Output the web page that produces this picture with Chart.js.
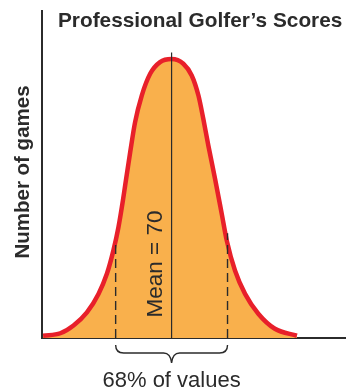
<!DOCTYPE html>
<html><head><meta charset="utf-8">
<script src="https://cdn.jsdelivr.net/npm/chart.js@4.4.1/dist/chart.umd.min.js"></script>
<style>html,body{margin:0;padding:0;background:#fff}#wrap{width:346px;height:392px;position:relative}</style>
</head><body><div id="wrap"><canvas id="c" width="346" height="392"></canvas></div>
<script>
// ---- data ----
const titleText = "Professional Golfer\u2019s Scores";
const yAxisLabel = "Number of games";
const meanLabel = "Mean = 70";
const rangeLabel = "68% of values";
const meanScore = 70;
const sdBelow = 67;
const sdAbove = 73;
const scores = [63.11, 64.03, 64.74, 65.46, 66.08, 66.53, 66.88, 67.15, 67.39, 67.51, 67.78, 68.04, 68.40, 68.85, 69.38, 70.0,
                70.63, 71.08, 71.44, 71.70, 71.97, 72.33, 72.69, 72.96, 73.40, 73.94, 74.65, 75.54, 76.72];
const games  = [0.8, 1.7, 4.5, 9.2, 15.8, 23.0, 31.4, 39.7, 49.3, 54.7, 66.6, 77.3, 86.9, 94.7, 98.9, 100,
                98.3, 94.1, 86.9, 78.6, 69.0, 57.1, 44.5, 34.9, 24.2, 15.8, 8.7, 3.3, 0.8];
const meanLineTop = 102.3;
const sdBelowTop = 34.2;
const sdAboveTop = 37.5;
const xRange = [63.05, 79.3];
const yRange = [0, 117.2];

const curve = scores.map((s, i) => ({x: s, y: games[i]}));

const FONT = '"Liberation Sans", Arial, Helvetica, sans-serif';
const INK = '#2b2b2b';

const annot = {
  id: 'annot',
  afterDraw(chart) {
    const {ctx, scales: {x, y}, chartArea} = chart;
    ctx.save();
    ctx.fillStyle = INK;
    // title
    ctx.font = 'bold 20.8px ' + FONT;
    ctx.textAlign = 'left';
    ctx.textBaseline = 'alphabetic';
    ctx.fillText(titleText, 58, 27);
    // y axis label
    ctx.save();
    ctx.translate(29, 172);
    ctx.rotate(-Math.PI / 2);
    ctx.textAlign = 'center';
    ctx.font = 'bold 20.5px ' + FONT;
    ctx.fillText(yAxisLabel, 0, 0);
    ctx.restore();
    // mean label
    ctx.save();
    ctx.translate(x.getPixelForValue(meanScore) - 10, 264);
    ctx.rotate(-Math.PI / 2);
    ctx.textAlign = 'center';
    ctx.font = '22.5px ' + FONT;
    ctx.fillText(meanLabel, 0, 0);
    ctx.restore();
    // bracket
    const xl = x.getPixelForValue(sdBelow), xr = x.getPixelForValue(sdAbove), xm = x.getPixelForValue(meanScore);
    const b = chartArea.bottom;
    ctx.strokeStyle = INK;
    ctx.lineWidth = 1.4;
    ctx.beginPath();
    ctx.moveTo(xl, b + 7);
    ctx.quadraticCurveTo(xl, b + 15, xl + 8, b + 15);
    ctx.lineTo(xm - 8, b + 15);
    ctx.quadraticCurveTo(xm - 1, b + 15, xm, b + 25);
    ctx.quadraticCurveTo(xm + 1, b + 15, xm + 8, b + 15);
    ctx.lineTo(xr - 8, b + 15);
    ctx.quadraticCurveTo(xr, b + 15, xr, b + 7);
    ctx.stroke();
    // range label
    ctx.textAlign = 'center';
    ctx.font = '22px ' + FONT;
    ctx.fillText(rangeLabel, xm, b + 49);
    ctx.restore();
  }
};

new Chart(document.getElementById('c'), {
  type: 'scatter',
  data: {
    datasets: [
      {
        data: curve,
        showLine: true,
        fill: 'origin',
        backgroundColor: 'rgb(249,176,76)',
        borderColor: '#e8202a',
        borderWidth: 4.5,
        pointRadius: 0,
        cubicInterpolationMode: 'monotone',
        order: 3,
        clip: false
      },
      {
        data: [{x: meanScore, y: 0}, {x: meanScore, y: meanLineTop}],
        showLine: true, fill: false, borderColor: INK, borderWidth: 1.2, pointRadius: 0, order: 1, clip: false
      },
      {
        data: [{x: sdBelow, y: 0}, {x: sdBelow, y: sdBelowTop}],
        showLine: true, fill: false, borderColor: INK, borderWidth: 1.4, borderDash: [9, 5], pointRadius: 0, order: 1, clip: false
      },
      {
        data: [{x: sdAbove, y: 0}, {x: sdAbove, y: sdAboveTop}],
        showLine: true, fill: false, borderColor: INK, borderWidth: 1.4, borderDash: [9, 5], pointRadius: 0, order: 1, clip: false
      }
    ]
  },
  options: {
    responsive: false,
    animation: false,
    devicePixelRatio: 1,
    layout: {padding: {left: 42, right: 1, top: 11, bottom: 54}},
    plugins: {legend: {display: false}, tooltip: {enabled: false}, title: {display: false}},
    scales: {
      x: {
        type: 'linear', min: xRange[0], max: xRange[1],
        ticks: {display: false},
        grid: {display: false, drawTicks: false},
        border: {display: true, color: INK, width: 2}
      },
      y: {
        min: yRange[0], max: yRange[1],
        ticks: {display: false},
        grid: {display: false, drawTicks: false},
        border: {display: true, color: INK, width: 2}
      }
    }
  },
  plugins: [annot]
});
</script>
</body></html>
